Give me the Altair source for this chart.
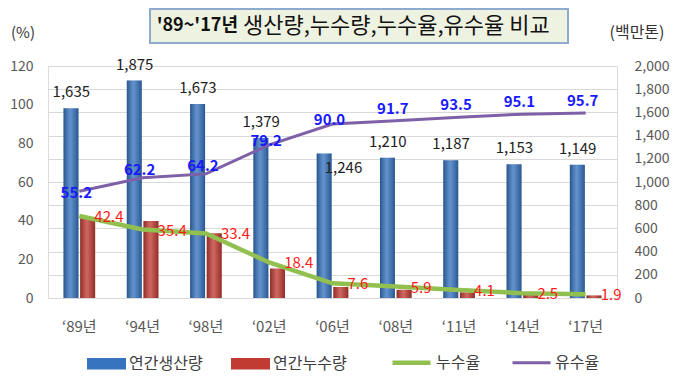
import altair as alt
import pandas as pd

# ---------------- data ----------------
years = ["‘89년", "‘94년", "‘98년", "‘02년", "‘06년", "‘08년", "‘11년", "‘14년", "‘17년"]
production = [1635, 1875, 1673, 1379, 1246, 1210, 1187, 1153, 1149]   # 연간생산량 (백만톤)
leakage = [693, 664, 559, 254, 95, 71, 49, 29, 22]                  # 연간누수량 (백만톤)
leak_rate = [42.4, 35.4, 33.4, 18.4, 7.6, 5.9, 4.1, 2.5, 1.9]        # 누수율 (%)
revenue_rate = [55.2, 62.2, 64.2, 79.2, 90.0, 91.7, 93.5, 95.1, 95.7]  # 유수율 (%)

bar_series = ["연간생산량", "연간누수량"]
line_series = ["누수율", "유수율"]
title_bold = "'89~'17년"
title_rest = "생산량,누수량,누수율,유수율 비교"
unit_left = "(%)"
unit_right = "(백만톤)"

wide = pd.DataFrame({
    "year": years,
    "production": production,
    "leakage": leakage,
    "leak_rate": leak_rate,
    "revenue_rate": revenue_rate,
})
bars_long = pd.concat([
    pd.DataFrame({"year": years, "series": bar_series[0], "value": production}),
    pd.DataFrame({"year": years, "series": bar_series[1], "value": leakage}),
], ignore_index=True)
lines_long = pd.concat([
    pd.DataFrame({"year": years, "series": line_series[0], "value": leak_rate}),
    pd.DataFrame({"year": years, "series": line_series[1], "value": revenue_rate}),
], ignore_index=True)
one = pd.DataFrame({"k": [0]})

FONT = "Noto Sans CJK KR"
GREY = "#595959"

# ---------------- shared encodings ----------------
x_enc = alt.X(
    "year:N", sort=years,
    scale=alt.Scale(paddingInner=0.5, paddingOuter=0.245),
    axis=alt.Axis(title=None, labelAngle=0, domain=False, ticks=False,
                  labelPadding=21, labelFontSize=15, labelColor=GREY, labelFont=FONT),
)

right_scale = alt.Scale(domain=[0, 2000], nice=False)
right_axis = alt.Axis(orient="right", values=list(range(0, 2001, 200)),
                      labelExpr="format(datum.value, ',')",
                      grid=True, gridColor="#d9d9d9", domain=False, ticks=False,
                      labelPadding=17, labelFontSize=14, labelColor=GREY, labelFont=FONT,
                      title=None)
left_scale = alt.Scale(domain=[0, 120], nice=False)
left_axis = alt.Axis(orient="left", values=list(range(0, 121, 20)), grid=False,
                     domain=False, ticks=False, labelPadding=15, labelFontSize=14,
                     labelColor=GREY, labelFont=FONT, title=None)

# ---------------- bars (right axis) ----------------
bars = alt.Chart(bars_long).mark_bar().encode(
    x=x_enc,
    xOffset=alt.XOffset("series:N", sort=bar_series, scale=alt.Scale(paddingInner=0.1)),
    y=alt.Y("value:Q", scale=right_scale, axis=right_axis),
    color=alt.Color("series:N", scale=alt.Scale(domain=bar_series, range=["#3674c0", "#c23b33"]),
                    legend=alt.Legend(orient="none", legendX=39, legendY=278, direction="horizontal",
                                      title=None, symbolType="M-1,-0.3L1,-0.3L1,0.3L-1,0.3Z",
                                      symbolSize=1521, symbolStrokeWidth=0, labelFontSize=16,
                                      labelFont=FONT, labelColor="#404040", columnPadding=28,
                                      labelOffset=3, padding=0)),
)

shade = alt.Gradient(
    gradient="linear", x1=0, x2=1, y1=0, y2=0,
    stops=[alt.GradientStop(offset=0, color="rgba(0,0,0,0.28)"),
           alt.GradientStop(offset=0.45, color="rgba(255,255,255,0.22)"),
           alt.GradientStop(offset=1, color="rgba(0,0,0,0.25)")],
)
bar_shade = alt.Chart(bars_long).mark_bar(fill=shade).encode(
    x=x_enc,
    xOffset=alt.XOffset("series:N", sort=bar_series, scale=alt.Scale(paddingInner=0.1)),
    y=alt.Y("value:Q", scale=right_scale, axis=right_axis),
)

prod_text = alt.Chart(wide).transform_filter(alt.datum.year != years[4]).mark_text(
    font=FONT, fontSize=15, color="#222222", dx=-8, dy=-16
).encode(
    x=x_enc,
    y=alt.Y("production:Q", scale=right_scale, axis=right_axis),
    text=alt.Text("production:Q", format=","),
)
prod_text_06 = alt.Chart(wide).transform_filter(alt.datum.year == years[4]).mark_text(
    font=FONT, fontSize=15, color="#222222", dx=11, dy=15
).encode(
    x=x_enc,
    y=alt.Y("production:Q", scale=right_scale, axis=right_axis),
    text=alt.Text("production:Q", format=","),
)

bars_group = alt.layer(bars, bar_shade, prod_text, prod_text_06)

# ---------------- lines (left axis) ----------------
lines = alt.Chart(lines_long).mark_line().encode(
    x=x_enc,
    y=alt.Y("value:Q", scale=left_scale, axis=left_axis),
    stroke=alt.Stroke("series:N", scale=alt.Scale(domain=line_series, range=["#92c050", "#7e60a8"]),
                      legend=alt.Legend(orient="none", legendX=342, legendY=275, direction="horizontal",
                                        title=None, symbolType="stroke", symbolSize=1444,
                                        symbolStrokeWidth=4, labelFontSize=16, labelFont=FONT,
                                        labelColor="#404040", columnPadding=25, labelOffset=3,
                                        padding=0)),
    strokeWidth=alt.StrokeWidth("series:N", scale=alt.Scale(domain=line_series, range=[4.5, 3]),
                                legend=None),
)


def rev_label(which, dy):
    return alt.Chart(wide).transform_filter(
        alt.FieldOneOfPredicate(field="year", oneOf=which)
    ).mark_text(
        font=FONT, fontSize=15, fontWeight="bold", color="#1a1aff", dy=dy, dx=-3
    ).encode(
        x=x_enc,
        y=alt.Y("revenue_rate:Q", scale=left_scale, axis=left_axis),
        text=alt.Text("revenue_rate:Q", format=".1f"),
    )


rev_a = rev_label(years[0:1], 2)
rev_b = rev_label(years[1:3], -8)
rev_c = rev_label(years[3:5], -4)
rev_d = rev_label(years[5:], -12)

leak_text = alt.Chart(wide).mark_text(
    font=FONT, fontSize=15, color="#ff1a1a", align="left", dx=15, dy=1
).encode(
    x=x_enc,
    y=alt.Y("leak_rate:Q", scale=left_scale, axis=left_axis),
    text=alt.Text("leak_rate:Q", format=".1f"),
)

# ---------------- title box & unit labels ----------------
title_box = alt.Chart(one).mark_rect(fill="#eef2e0", stroke="#8eaacf", strokeWidth=2).encode(
    x=alt.value(102), x2=alt.value(520), y=alt.value(-57), y2=alt.value(-23)
)
title_b = alt.Chart(one).mark_text(
    text=title_bold, font=FONT, fontSize=18, fontWeight="bold", color="#111111",
    align="right", baseline="middle"
).encode(x=alt.value(190), y=alt.value(-40))
title_r = alt.Chart(one).mark_text(
    text=title_rest, font=FONT, fontSize=22, color="#111111",
    align="left", baseline="middle"
).encode(x=alt.value(195), y=alt.value(-40))
unit_l = alt.Chart(one).mark_text(
    text=unit_left, font=FONT, fontSize=15, color="#333333", align="center", baseline="middle"
).encode(x=alt.value(-25), y=alt.value(-33))
unit_r = alt.Chart(one).mark_text(
    text=unit_right, font=FONT, fontSize=16, color="#333333", align="center", baseline="middle"
).encode(x=alt.value(589), y=alt.value(-33))

lines_group = alt.layer(lines, rev_a, rev_b, rev_c, rev_d, leak_text,
                        title_box, title_b, title_r, unit_l, unit_r)

chart = alt.layer(bars_group, lines_group).resolve_scale(
    y="independent"
).properties(
    width=569, height=232,
    autosize=alt.AutoSizeParams(type="none"),
    padding={"left": 40, "top": 58, "right": 54, "bottom": 76},
    background="white",
).configure_view(stroke=None).configure(font=FONT)

chart.save("out.html", embed_options={"renderer": "svg", "actions": False})
